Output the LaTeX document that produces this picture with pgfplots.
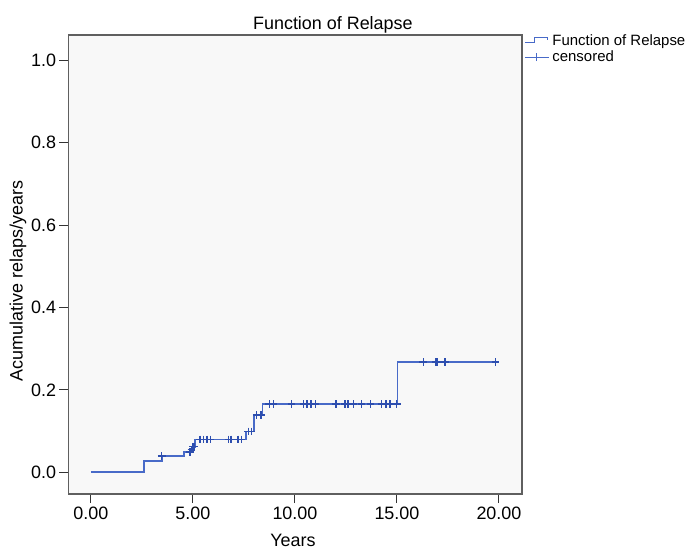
\documentclass[border=0pt]{standalone}
\usepackage{pgfplots}
\pgfplotsset{compat=1.18}
\usepackage{fontspec}
\setmainfont{Liberation Sans}
\definecolor{lineblue}{RGB}{72,106,200}
\definecolor{markblue}{RGB}{45,78,175}
\definecolor{bgray}{RGB}{248,248,248}
\definecolor{framegray}{RGB}{95,95,95}
\begin{document}
\begin{tikzpicture}
\begin{axis}[
  scale only axis,
  width=453.5bp, height=459bp,
  xmin=-1.10, xmax=21.13,
  ymin=-0.0527, ymax=1.0614,
  axis background/.style={fill=bgray},
  axis line style={framegray, line width=1.3bp},
  xtick={0,5,10,15,20},
  xticklabels={0.00,5.00,10.00,15.00,20.00},
  ytick={0,0.2,0.4,0.6,0.8,1.0},
  yticklabels={0.0,0.2,0.4,0.6,0.8,1.0},
  tick align=outside,
  major tick length=9bp,
  tick style={black!80, line width=1bp},
  xtick pos=bottom, ytick pos=left,
  ticklabel style={font=\fontsize{18}{21}\selectfont},
  xlabel={Years},
  ylabel={Acumulative relaps/years},
  label style={font=\fontsize{18}{21}\selectfont},
  xlabel style={at={(rel axis cs:0.495,0)}, anchor=center, yshift=-46.5bp},
  ylabel style={at={(rel axis cs:0,0.464)}, anchor=center, yshift=50.5bp},
  legend style={at={(1,1)}, anchor=north west, xshift=2bp, yshift=2bp,
    draw=none, fill=none, inner sep=0pt, font=\fontsize{15}{17.7}\selectfont,
    row sep=2.5bp, nodes={inner xsep=3bp, inner ysep=1bp}},
  legend cell align=left,
  clip=false,
]
\addplot[const plot, color=lineblue, draw=lineblue, line width=1.6bp, mark=none,
  legend image code/.code={\draw[lineblue, line width=1.2bp] (0bp,-2bp) -- (10bp,-2bp) -- (10bp,3bp) -- (23bp,3bp) -- (23bp,0bp);}]
  coordinates {
  (0,0) (2.6,0.027) (3.47,0.040) (4.57,0.049) (4.88,0.055) (4.98,0.062)
  (5.1,0.080) (7.6,0.099) (7.98,0.139) (8.4,0.166) (15.03,0.268) (19.84,0.268)
  };
\addlegendentry{Function of Relapse}
\addplot[only marks, mark=+, mark size=3.8bp, color=markblue,
  mark options={draw=markblue, line width=1.4bp},
  legend image code/.code={\draw[lineblue, line width=1.2bp] (0bp,0bp) -- (24bp,0bp); \draw[lineblue, line width=1.2bp] (12bp,-4bp) -- (12bp,4bp);}]
  coordinates {
  (3.47,0.040)
  (4.85,0.049) (4.93,0.055) (5.0,0.062) (5.05,0.062)
  (5.34,0.080) (5.51,0.080) (5.69,0.080) (5.86,0.080) (6.74,0.080) (6.86,0.080) (7.21,0.080) (7.38,0.080)
  (7.71,0.099) (7.88,0.099)
  (8.12,0.139) (8.33,0.139)
  (8.74,0.166) (8.94,0.166) (9.84,0.166) (10.43,0.166) (10.60,0.166) (10.78,0.166) (11.00,0.166)
  (12.01,0.166) (12.45,0.166) (12.61,0.166) (12.86,0.166) (13.27,0.166) (13.71,0.166)
  (14.25,0.166) (14.46,0.166) (14.66,0.166) (14.99,0.166)
  (16.29,0.268) (16.91,0.268) (17.0,0.268) (17.35,0.268) (19.84,0.268)
  };
\addlegendentry{censored}
\node[anchor=base, font=\fontsize{18}{21}\selectfont] at (rel axis cs:0.583,1) [yshift=5bp] {Function of Relapse};
\end{axis}
\pgfresetboundingbox
\path[use as bounding box] (-68.5bp,-55bp) rectangle (620.5bp,494bp);
\end{tikzpicture}
\end{document}
